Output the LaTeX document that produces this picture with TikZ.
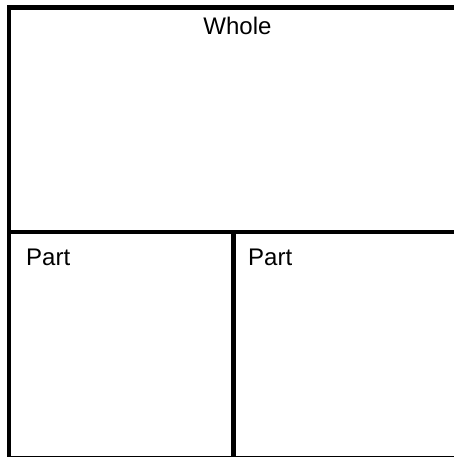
\documentclass[tikz,border=0pt]{standalone}
\usepackage{fontspec}
\setmainfont{Liberation Sans}
\usetikzlibrary{positioning}

\begin{document}
\begin{tikzpicture}[
    x=1pt, y=-1pt,
    region/.style={draw, line width=4.5pt},
    label/.style={inner sep=0pt, font=\fontsize{24}{28}\selectfont}
]
\useasboundingbox (0,0) rectangle (454,457);
% Regions
\draw[region] (9,7.5) rectangle (460,232);
\draw[region] (9,232) rectangle (233.5,458.5);
\draw[region] (233.5,232) rectangle (460,458.5);

% Labels
\node[label, anchor=base] (whole) at (237.5,35) {Whole};
\node[label, anchor=base west] (partA) at (26,265) {Part};
\node[label, anchor=base west] (partB) at (248,265) {Part};
\end{tikzpicture}
\end{document}
